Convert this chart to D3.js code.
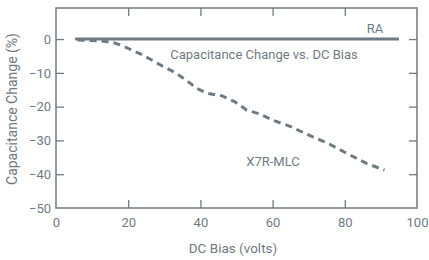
<!DOCTYPE html>
<html>
<head>
<meta charset="utf-8">
<script src="https://cdn.jsdelivr.net/npm/d3@7"></script>
<style>
  html, body { margin: 0; padding: 0; background: #fff; }
  svg { display: block; }
  text { font-family: Roboto, "Liberation Sans", sans-serif; fill: #6f7b84; }
</style>
</head>
<body>
<svg id="chart" width="429" height="260"></svg>
<script>
// ---- data ----
const xTicks = [0, 20, 40, 60, 80, 100];
const yTicks = [0, -10, -20, -30, -40, -50];
const raBias = [5.3, 95];
const raValues = [0, 0];
const x7rBias = [6, 12, 16, 18, 24, 29, 33, 36, 39, 42, 46, 49.6, 52.8, 56.5, 60, 65, 71, 75.4, 80.5, 86, 91];
const x7rValues = [-0.3, -0.5, -1.1, -1.8, -4.7, -7.7, -9.9, -12.1, -14.6, -16.1, -16.8, -18.6, -21, -22.2, -24, -25.9, -28.9, -30.9, -33.8, -36.8, -38.8];
const labels = { ra: "RA", x7r: "X7R-MLC", title: "Capacitance Change vs. DC Bias",
  xTitle: "DC Bias (volts)", yTitle: "Capacitance Change (%)" };

// ---- layout ----
const color = "#6f7b84";
const mLeft = 56, mRight = 417, mTop = 8, mBottom = 208;
const svg = d3.select("#chart");
const x = d3.scaleLinear().domain([0, 100]).range([mLeft, mRight]);
const y = d3.scaleLinear().domain([-50, 9.2]).range([mBottom, mTop]);

// frame
svg.append("rect").attr("x", mLeft).attr("y", mTop)
  .attr("width", mRight - mLeft).attr("height", mBottom - mTop)
  .attr("fill", "none").attr("stroke", color).attr("stroke-width", 1.5);

// axes with inward ticks
const tl = 8;
const gb = svg.append("g").attr("transform", `translate(0,${mBottom})`)
  .call(d3.axisBottom(x).tickValues(xTicks).tickSize(-tl).tickPadding(10).tickFormat(d3.format("d")));
const gt = svg.append("g").attr("transform", `translate(0,${mTop})`)
  .call(d3.axisTop(x).tickValues(xTicks).tickSize(-tl).tickFormat(""));
const gl = svg.append("g").attr("transform", `translate(${mLeft},0)`)
  .call(d3.axisLeft(y).tickValues(yTicks).tickSize(-tl).tickPadding(5).tickFormat(d3.format("d")));
const gr = svg.append("g").attr("transform", `translate(${mRight},0)`)
  .call(d3.axisRight(y).tickValues(yTicks).tickSize(-tl).tickFormat(""));
[gb, gt, gl, gr].forEach(g => {
  g.select(".domain").remove();
  g.selectAll(".tick line").attr("stroke", color).attr("stroke-width", 1.3);
  g.selectAll(".tick text").attr("fill", color).style("font-size", "13px")
    .style("font-family", "Roboto, sans-serif");
});
gb.selectAll(".tick line").filter(d => d === 0 || d === 100).remove();
gt.selectAll(".tick line").filter(d => d === 0 || d === 100).remove();
gl.selectAll(".tick line").filter(d => d === -50).remove();
gr.selectAll(".tick line").filter(d => d === -50).remove();

// lines
const line = d3.line().x(d => x(d[0])).y(d => y(d[1]));
svg.append("path").datum(raBias.map((b, i) => [b, raValues[i]]))
  .attr("d", line).attr("fill", "none").attr("stroke", color).attr("stroke-width", 3);
svg.append("path").datum(x7rBias.map((b, i) => [b, x7rValues[i]]))
  .attr("d", line).attr("fill", "none").attr("stroke", color).attr("stroke-width", 3)
  .attr("stroke-dasharray", "7,5");

// annotations
svg.append("text").attr("x", 375).attr("y", 33).attr("text-anchor", "middle")
  .style("font-size", "13px").text(labels.ra);
svg.append("text").attr("x", 264).attr("y", 59).attr("text-anchor", "middle")
  .style("font-size", "13px").text(labels.title);
svg.append("text").attr("x", 273).attr("y", 166).attr("text-anchor", "middle")
  .style("font-size", "13px").text(labels.x7r);

// axis titles
svg.append("text").attr("x", 233).attr("y", 253).attr("text-anchor", "middle")
  .style("font-size", "13.5px").text(labels.xTitle);
svg.append("text").attr("transform", "translate(17,109) rotate(-90)").attr("text-anchor", "middle")
  .style("font-size", "14px").text(labels.yTitle);
</script>
</body>
</html>
